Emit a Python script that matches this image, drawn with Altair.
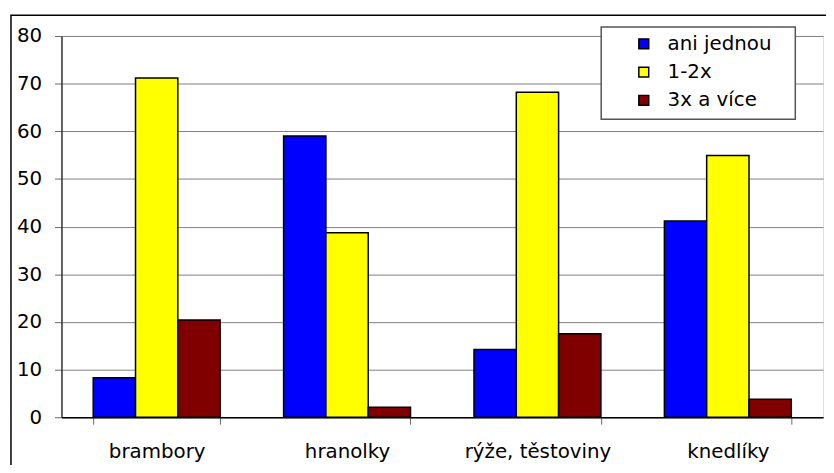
import altair as alt
import pandas as pd

categories = ["brambory", "hranolky", "rýže, těstoviny", "knedlíky"]
series = ["ani jednou", "1-2x", "3x a více"]
ani_jednou = [8.3, 59.0, 14.2, 41.2]
jednou_dvakrat = [71.2, 38.7, 68.2, 54.9]
trikrat_vice = [20.4, 2.1, 17.5, 3.8]
colors = ["#0000FF", "#FFFF00", "#800000"]
y_ticks = [0, 10, 20, 30, 40, 50, 60, 70, 80]

rows = []
for s, vals in zip(series, [ani_jednou, jednou_dvakrat, trikrat_vice]):
    for c, v in zip(categories, vals):
        rows.append({"kategorie": c, "serie": s, "hodnota": v})
df = pd.DataFrame(rows)

FONT = "DejaVu Sans"
one = pd.DataFrame({"a": [0]})

frame = alt.Chart(one).mark_rect(fill=None, stroke="black", strokeWidth=1.5).encode(
    x=alt.value(-51), x2=alt.value(820), y=alt.value(-21), y2=alt.value(470)
)
legbox = alt.Chart(one).mark_rect(fill="white", stroke="#555555", strokeWidth=1.5).encode(
    x=alt.value(545), x2=alt.value(741), y=alt.value(-9), y2=alt.value(84)
)

bars = alt.Chart(df).mark_bar(stroke="black", strokeWidth=1.5).encode(
    x=alt.X(
        "kategorie:N", sort=categories,
        scale=alt.Scale(paddingInner=1 / 3, paddingOuter=1 / 6),
        axis=alt.Axis(title=None, labelAngle=0, tickBand="extent", tickSize=7,
                      tickColor="#666666", domainColor="#000000", domainWidth=1.5,
                      labelPadding=18, labelFontSize=20, labelFont=FONT,
                      labelColor="#000000", grid=False),
    ),
    xOffset=alt.XOffset("serie:N", sort=series,
                        scale=alt.Scale(paddingInner=0, paddingOuter=0)),
    y=alt.Y(
        "hodnota:Q", scale=alt.Scale(domain=[0, 80], nice=False),
        axis=alt.Axis(title=None, values=y_ticks, tickSize=7, tickColor="#666666",
                      domainColor="#333333", domainWidth=1.5, gridColor="#808080",
                      gridWidth=1, labelPadding=13, labelFontSize=20, labelFont=FONT,
                      labelColor="#000000"),
    ),
    color=alt.Color(
        "serie:N", sort=series, scale=alt.Scale(domain=series, range=colors),
        legend=alt.Legend(title=None, orient="none", legendX=578, legendY=-2,
                          symbolType="square", symbolSize=100,
                          symbolStrokeColor="black", symbolStrokeWidth=1.5,
                          labelFontSize=20, labelFont=FONT, labelColor="#000000",
                          labelOffset=14, rowPadding=8.5, padding=0),
    ),
)

chart = alt.layer(frame, legbox, bars).properties(
    width=769, height=385,
    autosize=alt.AutoSizeParams(type="none"),
    padding={"left": 54, "top": 26, "right": 3, "bottom": 46},
).configure_view(stroke="#808080", strokeWidth=1).configure(background="white")

chart.save("out.html", embed_options={"renderer": "svg", "actions": False})
